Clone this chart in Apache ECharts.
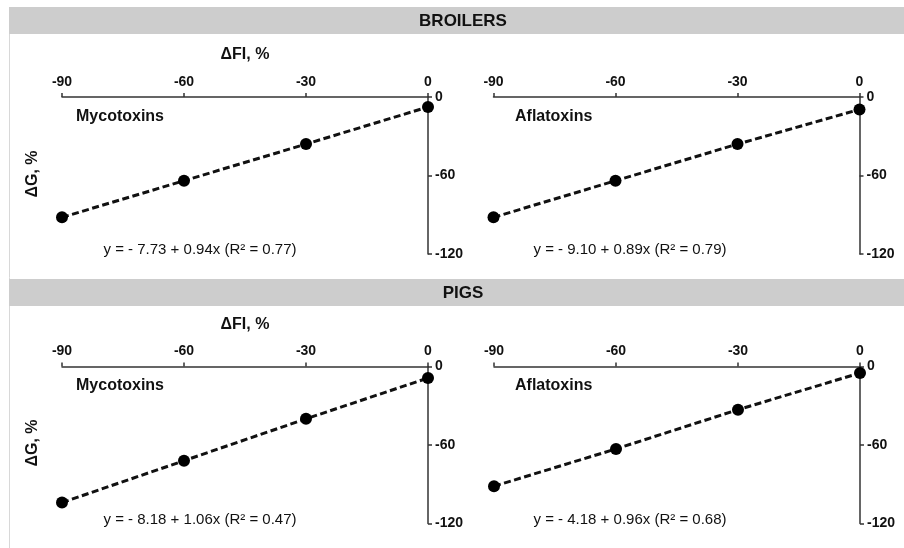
<!DOCTYPE html>
<html>
<head>
<meta charset="utf-8">
<script src="https://cdn.jsdelivr.net/npm/echarts@6/dist/echarts.min.js"></script>
<style>
html,body{margin:0;padding:0;background:#fff;}
#chart{width:904px;height:548px;}
</style>
</head>
<body>
<div id="chart"></div>
<script>
// ---- data ----
var fiLevels = [-90, -60, -30, 0];           // ΔFI, %
var xTicks = [-90, -60, -30, 0];
var yTicks = [0, -60, -120];
var broilersMycotoxins = [-92, -64, -36, -7.6];
var broilersAflatoxins = [-92, -64, -36, -9.5];
var pigsMycotoxins = [-104, -72, -40, -8.8];
var pigsAflatoxins = [-91.5, -63, -33, -5];
var panelTitles = ['Mycotoxins', 'Aflatoxins', 'Mycotoxins', 'Aflatoxins'];
var equations = [
  'y = - 7.73 + 0.94x (R\u00B2 = 0.77)',
  'y = - 9.10 + 0.89x (R\u00B2 = 0.79)',
  'y = - 8.18 + 1.06x (R\u00B2 = 0.47)',
  'y = - 4.18 + 0.96x (R\u00B2 = 0.68)'
];
var groupTitles = ['BROILERS', 'PIGS'];

var FONT = '"Liberation Sans", Arial, sans-serif';
var TXT = '#111';
var chart = echarts.init(document.getElementById('chart'), null, {renderer: 'canvas'});

var grids = [
  {left: 62, top: 97, width: 366, height: 157},
  {left: 493.5, top: 97, width: 366, height: 157},
  {left: 62, top: 366.5, width: 366, height: 157},
  {left: 494, top: 366.5, width: 366, height: 157}
];
var seriesData = [broilersMycotoxins, broilersAflatoxins, pigsMycotoxins, pigsAflatoxins];

function pairs(ys) { return fiLevels.map(function (x, i) { return [x, ys[i]]; }); }

var xAxes = [], yAxes = [], series = [];
grids.forEach(function (g, i) {
  var showName = (i % 2 === 0);
  xAxes.push({
    type: 'value', gridIndex: i, position: 'top',
    min: xTicks[0], max: xTicks[xTicks.length - 1], interval: 30,
    name: showName ? '\u0394FI, %' : '', nameLocation: 'middle', nameGap: 34,
    nameTextStyle: {fontFamily: FONT, fontWeight: 'bold', fontSize: 16, color: TXT},
    axisLine: {show: true, onZero: false, lineStyle: {color: '#333', width: 1.5}},
    axisTick: {show: true, inside: false, length: 4, lineStyle: {color: '#333', width: 1.5}},
    axisLabel: {fontFamily: FONT, fontWeight: 'bold', fontSize: 14, color: TXT, margin: 8},
    splitLine: {show: false}
  });
  yAxes.push({
    type: 'value', gridIndex: i, position: 'right',
    min: yTicks[yTicks.length - 1], max: yTicks[0], interval: 60,
    axisLine: {show: true, onZero: false, lineStyle: {color: '#333', width: 1.5}},
    axisTick: {show: true, inside: false, length: 4, lineStyle: {color: '#333', width: 1.5}},
    axisLabel: {fontFamily: FONT, fontWeight: 'bold', fontSize: 14, color: TXT, margin: 7},
    splitLine: {show: false}
  });
  series.push({
    type: 'line', xAxisIndex: i, yAxisIndex: i,
    data: pairs(seriesData[i]),
    symbol: 'circle', symbolSize: 12,
    itemStyle: {color: '#000'},
    lineStyle: {color: '#111', width: 3, type: [7, 3.5]},
    silent: true, animation: false
  });
});

var graphics = [
  {type: 'line', shape: {x1: 9.5, y1: 7, x2: 9.5, y2: 548}, style: {stroke: '#d8d8d8', lineWidth: 1}},
  {type: 'rect', shape: {x: 9, y: 7, width: 895, height: 27}, style: {fill: '#cdcdcd'}},
  {type: 'rect', shape: {x: 9, y: 279, width: 895, height: 27}, style: {fill: '#cdcdcd'}},
  {type: 'text', x: 463, y: 21, style: {text: groupTitles[0], font: 'bold 17px ' + FONT, fill: TXT, textAlign: 'center', textVerticalAlign: 'middle'}},
  {type: 'text', x: 463, y: 293, style: {text: groupTitles[1], font: 'bold 17px ' + FONT, fill: TXT, textAlign: 'center', textVerticalAlign: 'middle'}},
  {type: 'text', x: 33, y: 174, rotation: Math.PI / 2, style: {text: '\u0394G, %', font: 'bold 16px ' + FONT, fill: TXT, textAlign: 'center', textVerticalAlign: 'middle'}},
  {type: 'text', x: 33, y: 443, rotation: Math.PI / 2, style: {text: '\u0394G, %', font: 'bold 16px ' + FONT, fill: TXT, textAlign: 'center', textVerticalAlign: 'middle'}}
];
var titlePos = [[76, 117], [515, 117], [76, 386], [515, 386]];
var eqPos = [[200, 250], [630, 250], [200, 520], [630, 520]];
for (var k = 0; k < 4; k++) {
  graphics.push({type: 'text', x: titlePos[k][0], y: titlePos[k][1],
    style: {text: panelTitles[k], font: 'bold 16px ' + FONT, fill: TXT, textAlign: 'left', textVerticalAlign: 'middle'}});
  graphics.push({type: 'text', x: eqPos[k][0], y: eqPos[k][1],
    style: {text: equations[k], font: '15px ' + FONT, fill: TXT, textAlign: 'center', textVerticalAlign: 'middle'}});
}

chart.setOption({
  backgroundColor: '#fff',
  animation: false,
  grid: grids,
  xAxis: xAxes,
  yAxis: yAxes,
  series: series,
  graphic: graphics
});
</script>
</body>
</html>
